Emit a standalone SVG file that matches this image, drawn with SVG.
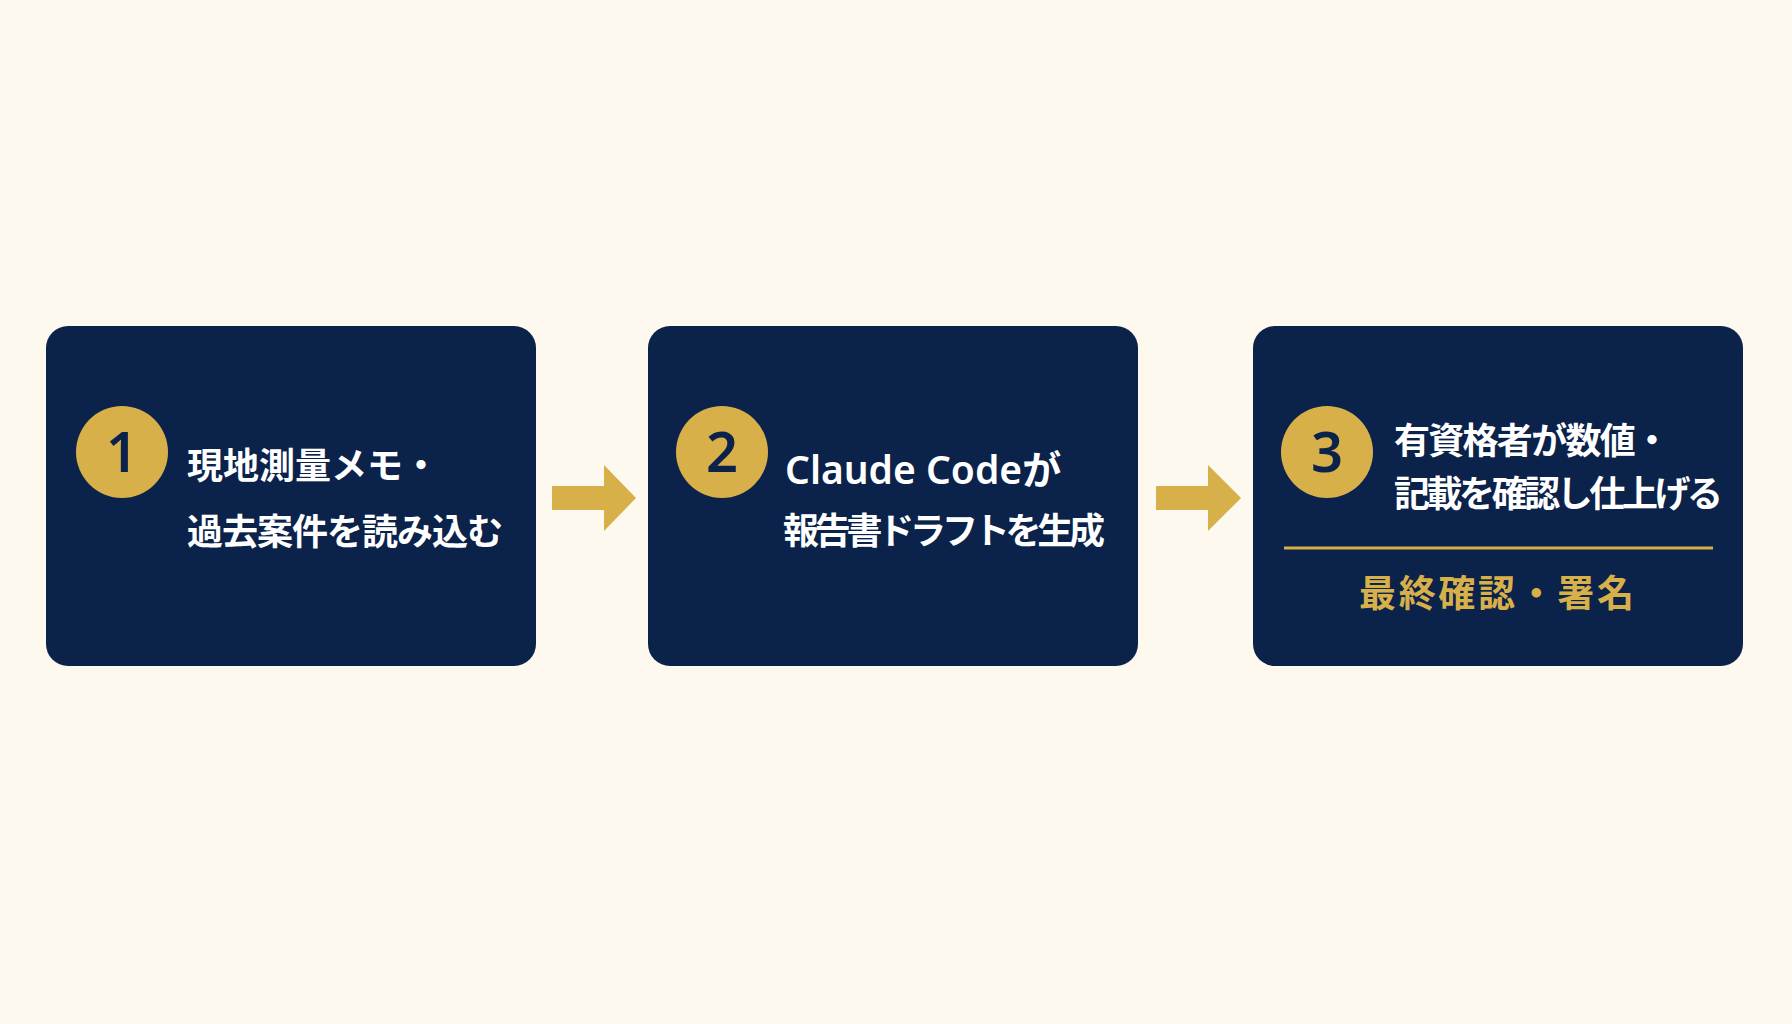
<svg xmlns="http://www.w3.org/2000/svg" width="1792" height="1024" viewBox="0 0 1792 1024">
<defs>
<style>
.bg{fill:#FDF9EF}
.box{fill:#0B224B}
.badge{fill:#D8B04A}
.num{fill:#0B224B;font-family:"Noto Sans","Noto Sans CJK JP",sans-serif;font-weight:600;font-size:56px;text-anchor:middle}
.t{fill:#FFFFFF;font-family:"Noto Sans CJK JP","Noto Sans",sans-serif;font-weight:700;font-size:36px}
.t.big{font-family:"Noto Sans","Noto Sans CJK JP",sans-serif;font-weight:600;font-size:39px}
.gold{fill:#D8B04A;font-family:"Noto Sans CJK JP",sans-serif;font-weight:700;font-size:37px}
.arrow{fill:#D8B04A}
</style>
</defs>
<rect class="bg" x="0" y="0" width="1792" height="1024"/>
<g id="connectors">
<polygon class="arrow" points="552,486 604,486 604,465 636,498 604,531 604,510 552,510"/>
<polygon class="arrow" points="1156,486 1208,486 1208,465 1241,498 1208,531 1208,510 1156,510"/>
</g>
<g id="step1">
<rect class="box" x="46" y="326" width="490" height="340" rx="22"/>
<circle class="badge" cx="122" cy="452" r="46"/>
<text class="num" x="122" y="472">1</text>
<text class="t" x="187" y="479" textLength="252">現地測量メモ・</text>
<text class="t" x="187" y="545" textLength="316">過去案件を読み込む</text>
</g>
<g id="step2">
<rect class="box" x="648" y="326" width="490" height="340" rx="22"/>
<circle class="badge" cx="722" cy="452" r="46"/>
<text class="num" x="722" y="472">2</text>
<text class="t big" x="785" y="484">Claude Codeが</text>
<text class="t" x="783" y="544" textLength="322">報告書ドラフトを生成</text>
</g>
<g id="step3">
<rect class="box" x="1253" y="326" width="490" height="340" rx="22"/>
<circle class="badge" cx="1327" cy="452" r="46"/>
<text class="num" x="1327" y="472">3</text>
<text class="t" x="1394" y="454" textLength="276">有資格者が数値・</text>
<text class="t" x="1394" y="507" textLength="329">記載を確認し仕上げる</text>
<line x1="1284" y1="548" x2="1713" y2="548" stroke="#D8B04A" stroke-width="3"/>
<text class="gold" x="1359" y="607" textLength="275">最終確認・署名</text>
</g>
</svg>
